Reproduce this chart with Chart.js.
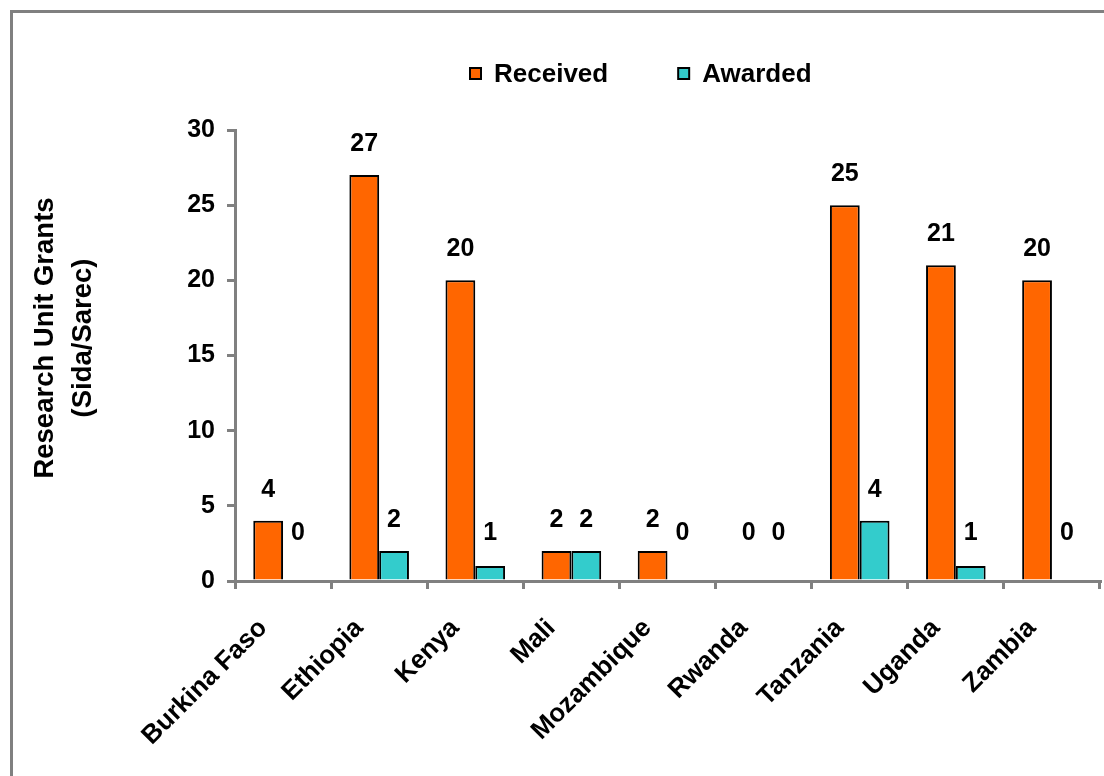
<!DOCTYPE html>
<html>
<head>
<meta charset="utf-8">
<script src="https://cdn.jsdelivr.net/npm/chart.js@4"></script>
<style>
  html, body { margin: 0; padding: 0; background: #ffffff; overflow: hidden; }
  #frame { position: absolute; left: 10px; top: 10px; width: 1200px; height: 900px;
           border-left: 3px solid #808080; border-top: 3px solid #808080; }
  #wrap { position: absolute; left: 0; top: 0; width: 1104px; height: 776px; }
</style>
</head>
<body>
<div id="frame"></div>
<div id="wrap"><canvas id="c" width="1104" height="776"></canvas></div>
<script>
const categories = ['Burkina Faso', 'Ethiopia', 'Kenya', 'Mali', 'Mozambique', 'Rwanda', 'Tanzania', 'Uganda', 'Zambia'];
const received = [4, 27, 20, 2, 2, 0, 25, 21, 20];
const awarded  = [0, 2, 1, 2, 0, 0, 4, 1, 0];
const yTicks = [0, 5, 10, 15, 20, 25, 30];
const seriesNames = ['Received', 'Awarded'];
const yTitle = ['Research Unit Grants', '(Sida/Sarec)'];

const FONT = 'Liberation Sans, Arial, Helvetica, sans-serif';
const AXIS = '#808080';

const valueLabels = {
  id: 'valueLabels',
  afterDatasetsDraw(chart) {
    const ctx = chart.ctx;
    const base = chart.scales.y.getPixelForValue(0);
    ctx.save();
    ctx.font = 'bold 25px ' + FONT;
    ctx.fillStyle = '#000';
    ctx.textAlign = 'center';
    ctx.textBaseline = 'middle';
    chart.data.datasets.forEach((ds, di) => {
      const meta = chart.getDatasetMeta(di);
      meta.data.forEach((el, i) => {
        const v = ds.data[i];
        const y = Math.min(el.y - 31, base - 48);
        ctx.fillText(String(v), el.x, y);
      });
    });
    ctx.restore();
  }
};

const yAxisTitle = {
  id: 'yAxisTitle',
  afterDraw(chart) {
    const ctx = chart.ctx;
    ctx.save();
    ctx.font = 'bold 27.5px ' + FONT;
    ctx.fillStyle = '#000';
    ctx.textAlign = 'center';
    ctx.textBaseline = 'middle';
    ctx.translate(45, 338);
    ctx.rotate(-Math.PI / 2);
    yTitle.forEach((line, i) => ctx.fillText(line, 0, i * 38));
    ctx.restore();
  }
};

const customLegend = {
  id: 'customLegend',
  afterDraw(chart) {
    const ctx = chart.ctx;
    ctx.save();
    ctx.font = 'bold 26px ' + FONT;
    ctx.textBaseline = 'middle';
    ctx.textAlign = 'left';
    let x = 469;
    const cy = 74;
    chart.data.datasets.forEach((ds) => {
      ctx.fillStyle = ds.backgroundColor;
      ctx.fillRect(x + 1, cy - 6, 11, 11);
      ctx.strokeStyle = '#000';
      ctx.lineWidth = 2;
      ctx.strokeRect(x + 1, cy - 6, 11, 11);
      ctx.fillStyle = '#000';
      ctx.fillText(ds.label, x + 25, cy + 1);
      x += 25 + ctx.measureText(ds.label).width + 69;
    });
    ctx.restore();
  }
};

new Chart(document.getElementById('c'), {
  type: 'bar',
  data: {
    labels: categories,
    datasets: [
      { label: seriesNames[0], data: received, backgroundColor: '#FF6600', borderColor: '#000000', borderWidth: 2,
        categoryPercentage: 0.62, barPercentage: 1.0 },
      { label: seriesNames[1], data: awarded, backgroundColor: '#33CCCC', borderColor: '#000000', borderWidth: 2,
        categoryPercentage: 0.62, barPercentage: 1.0 }
    ]
  },
  options: {
    responsive: false,
    animation: false,
    layout: { padding: { left: 0, right: 4, top: 130, bottom: 0 } },
    plugins: {
      legend: { display: false },
      tooltip: { enabled: false }
    },
    scales: {
      x: {
        grid: { display: true, drawOnChartArea: false, drawTicks: true, tickLength: 8, color: AXIS, lineWidth: 3, offset: true },
        border: { display: true, color: AXIS, width: 3 },
        ticks: { color: '#000', font: { family: FONT, size: 26, weight: 'bold' }, maxRotation: 45, minRotation: 45,
                 padding: 24, labelOffset: -20, autoSkip: false },
        afterFit(s) { s.height = 195; }
      },
      y: {
        min: 0, max: 30,
        afterBuildTicks(s) { s.ticks = yTicks.map(v => ({ value: v })); },
        grid: { display: true, drawOnChartArea: false, drawTicks: true, tickLength: 8, color: AXIS, lineWidth: 3 },
        border: { display: true, color: AXIS, width: 3 },
        ticks: { color: '#000', font: { family: FONT, size: 25, weight: 'bold' }, padding: 12 },
        title: { display: false },
        afterFit(s) { s.width = 235; }
      }
    }
  },
  plugins: [valueLabels, yAxisTitle, customLegend]
});
</script>
</body>
</html>
